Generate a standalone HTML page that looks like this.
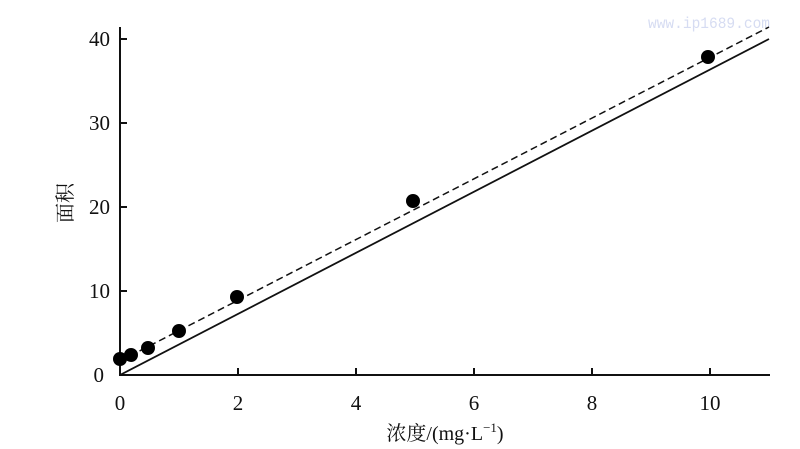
<!DOCTYPE html>
<html><head><meta charset="utf-8"><style>
html,body{margin:0;padding:0;background:#fff;}
svg{display:block;}
text{font-family:"Liberation Serif","Noto Serif CJK SC",serif;fill:#111;}
</style></head><body>
<svg width="800" height="449" viewBox="0 0 800 449" xmlns="http://www.w3.org/2000/svg">
<text x="770" y="28" font-size="16" style="fill:#d6dcf2;font-family:'Liberation Mono',monospace" text-anchor="end" textLength="122" lengthAdjust="spacingAndGlyphs">www.ip1689.com</text>
<g stroke="#111" stroke-width="2" fill="none">
<line x1="120" y1="27" x2="120" y2="376"/>
<line x1="119" y1="375" x2="770" y2="375"/>
<line x1="120" y1="39" x2="127" y2="39"/>
<line x1="120" y1="123" x2="127" y2="123"/>
<line x1="120" y1="207" x2="127" y2="207"/>
<line x1="120" y1="291" x2="127" y2="291"/>
<line x1="238" y1="375" x2="238" y2="368"/>
<line x1="356" y1="375" x2="356" y2="368"/>
<line x1="474" y1="375" x2="474" y2="368"/>
<line x1="592" y1="375" x2="592" y2="368"/>
<line x1="710" y1="375" x2="710" y2="368"/>
</g>
<line x1="120" y1="375" x2="769" y2="39" stroke="#111" stroke-width="1.8"/>
<line x1="120" y1="361" x2="769" y2="27" stroke="#111" stroke-width="1.5" stroke-dasharray="7,4"/>
<g fill="#000">
<circle cx="120" cy="359" r="7"/>
<circle cx="131" cy="355" r="7"/>
<circle cx="148" cy="348" r="7"/>
<circle cx="179" cy="331" r="7"/>
<circle cx="237" cy="297" r="7"/>
<circle cx="413" cy="201" r="7"/>
<circle cx="708" cy="57" r="7"/>
</g>
<g font-size="21" text-anchor="end">
<text x="110" y="46">40</text>
<text x="110" y="130">30</text>
<text x="110" y="214">20</text>
<text x="110" y="298">10</text>
<text x="104" y="382">0</text>
</g>
<g font-size="21" text-anchor="middle">
<text x="120" y="410">0</text>
<text x="238" y="410">2</text>
<text x="356" y="410">4</text>
<text x="474" y="410">6</text>
<text x="592" y="410">8</text>
<text x="710" y="410">10</text>
</g>
<text x="445" y="440" font-size="20" text-anchor="middle">浓度/(mg·L<tspan font-size="13" dy="-8">−1</tspan><tspan dy="8">)</tspan></text>
<text transform="translate(72,203) rotate(-90)" font-size="20" text-anchor="middle">面积</text>
</svg>
</body></html>
